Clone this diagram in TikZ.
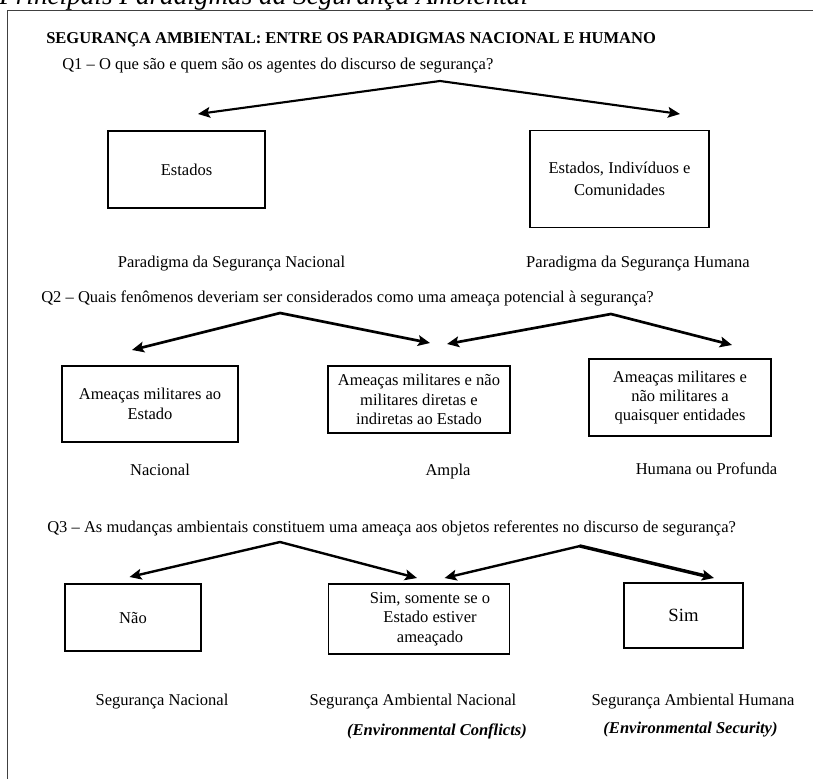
\documentclass[tikz,border=0pt]{standalone}
\usepackage{fontspec}
\setmainfont{Liberation Serif}
\usetikzlibrary{arrows.meta}

\newcommand{\fontetexto}{\fontsize{12.4}{14.5}\selectfont}

\tikzset{
  caixa/.style={draw, line width=0.9pt, align=center, inner sep=2pt},
  seta/.style={{Stealth[length=9pt,width=8pt,inset=1.8pt]}-{Stealth[length=9pt,width=8pt,inset=1.8pt]}, line width=#1, line join=miter},
  seta/.default=1.6pt,
  ponta/.style={-{Stealth[length=9pt,width=8pt,inset=1.8pt]}, line width=#1, line cap=round},
  ponta/.default=1.6pt,
  pergunta/.style={anchor=base west, inner sep=0pt},
  rotulo/.style={anchor=base, inner sep=0pt}
}

\begin{document}
\begin{tikzpicture}[x=0.75pt, y=-0.75pt, font=\fontetexto]
\clip (0,0) rectangle (813,778);
\draw[black!75, line width=0.6pt] (7,790) -- (7,10) -- (830,10);
\node[pergunta, font=\fontsize{20.4}{24}\selectfont\itshape] (titulo) at (-1,4) {Principais Paradigmas da Segurança Ambiental};

\node[pergunta, font=\fontetexto\bfseries] (cabecalho) at (46,43) {SEGURANÇA AMBIENTAL: ENTRE OS PARADIGMAS NACIONAL E HUMANO};

\node[pergunta] (q1) at (62,69) {Q1 -- O que são e quem são os agentes do discurso de segurança?};
\coordinate (a1) at (440,81);
\coordinate (t1e) at (198,114);
\coordinate (t1d) at (680,114);
\draw[seta=1.6pt] (t1e) -- (a1) -- (t1d);
\node[caixa, minimum width=117.75pt, minimum height=57.75pt] (estados) at (186.5,169.5) {Estados};
\node[caixa, minimum width=134.25pt, minimum height=72.4pt] (estind) at (619.5,179) {Estados, Indivíduos e\\[2pt]Comunidades};
\node[rotulo] (parnac) at (231.5,267) {Paradigma da Segurança Nacional};
\node[rotulo] (parhum) at (638,267) {Paradigma da Segurança Humana};

\node[pergunta] (q2) at (41,302) {Q2 -- Quais fenômenos deveriam ser considerados como uma ameaça potencial à segurança?};
\coordinate (a2e) at (280,313);
\coordinate (t2a) at (132,350);
\coordinate (t2b) at (430,343);
\coordinate (a2d) at (611,314);
\coordinate (t2c) at (447,344);
\coordinate (t2d) at (732,345);
\draw[seta=2pt] (t2a) -- (a2e) -- (t2b);
\draw[seta=2pt] (t2c) -- (a2d) -- (t2d);
\node[caixa, minimum width=132pt, minimum height=57pt] (milest) at (150,404) {Ameaças militares ao\\Estado};
\node[caixa, minimum width=136.5pt, minimum height=50.25pt] (milnmil) at (419,399.5) {Ameaças militares e não\\militares diretas e\\indiretas ao Estado};
\node[caixa, minimum width=136.5pt, minimum height=57.75pt] (milent) at (680,397.5) {Ameaças militares e\\não militares a\\quaisquer entidades};
\node[rotulo] (nacional) at (160,475) {Nacional};
\node[rotulo] (ampla) at (448,475) {Ampla};
\node[rotulo] (humprof) at (706.5,474) {Humana ou Profunda};

\node[pergunta] (q3) at (47,532) {Q3 -- As mudanças ambientais constituem uma ameaça aos objetos referentes no discurso de segurança?};
\coordinate (a3e) at (280,542);
\coordinate (t3a) at (129.5,577);
\coordinate (t3b) at (417,578);
\coordinate (a3d) at (580,546);
\coordinate (t3c) at (444.6,578);
\coordinate (t3d) at (714,578);
\draw[seta=1.8pt] (t3a) -- (a3e) -- (t3b);
\draw[ponta=1.8pt] (a3d) -- (t3c);
\draw[ponta=2.6pt] (a3d) -- (t3d);
\node[caixa, minimum width=102pt, minimum height=50.25pt] (nao) at (133,617.5) {Não};
\node[caixa, minimum width=136pt, minimum height=52.5pt] (simse) at (419,619) {};
\node[align=center, inner sep=0pt] (simsetxt) at (430,619) {Sim, somente se o\\Estado estiver\\ameaçado};
\node[caixa, minimum width=89.25pt, minimum height=48.75pt, font=\fontsize{14}{16}\selectfont] (sim) at (683.5,615.5) {Sim};
\node[rotulo] (segnac) at (162,705.5) {Segurança Nacional};
\node[rotulo] (segambnac) at (413,705) {Segurança Ambiental Nacional};
\node[rotulo] (segambhum) at (693,705) {Segurança Ambiental Humana};
\node[rotulo, font=\fontetexto\bfseries\itshape] (envconf) at (437,735) {(Environmental Conflicts)};
\node[rotulo, font=\fontetexto\bfseries\itshape] (envsec) at (690.5,733) {(Environmental Security)};
\end{tikzpicture}
\end{document}
